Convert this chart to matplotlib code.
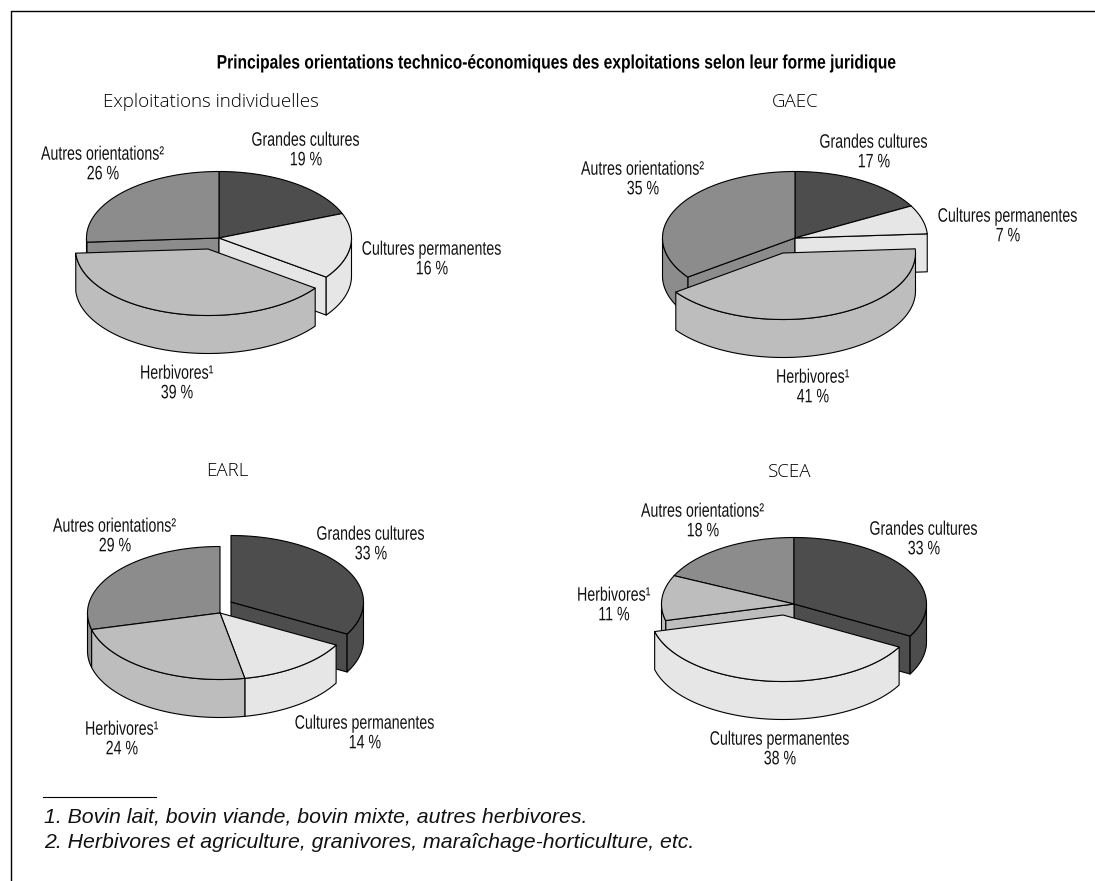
import numpy as np
import matplotlib
matplotlib.use('Agg')
import matplotlib.pyplot as plt
from matplotlib.patheffects import AbstractPathEffect
from matplotlib.transforms import Affine2D

# part of each orientation per legal form, in percent
categories = ['Grandes cultures', 'Cultures permanentes', 'Herbivores¹', 'Autres orientations²']
individuelles = [19, 16, 39, 26]
gaec = [17, 7, 41, 35]
earl = [33, 14, 24, 29]
scea = [33, 38, 11, 18]
colors = ['#4d4d4d', '#e6e6e6', '#bdbdbd', '#8c8c8c']

RX, RY, DEPTH = 132.5, 66.5, 38
SQUEEZE = 0.73


class Narrow(AbstractPathEffect):
    # no condensed font installed, so squeeze the glyphs around x0
    def __init__(self, x0, sx):
        super().__init__()
        self.tr = Affine2D().translate(-x0, 0).scale(sx, 1).translate(x0, 0)

    def draw_path(self, renderer, gc, tpath, affine, rgbFace=None):
        renderer.draw_path(gc, tpath, affine + self.tr, rgbFace)


def arc(cx, cy, a, b):
    t = np.radians(np.linspace(a, b, 80))
    return np.column_stack([cx + RX * np.cos(t), cy - RY * np.sin(t)])


def draw_slice(ax, cx, cy, a1, a2, color):
    # a1 > a2, clockwise. walls first, top face last
    edge = dict(facecolor=color, edgecolor='black', linewidth=0.8, joinstyle='round')
    for a, vis in ((a1, np.cos(np.radians(a1)) < 0), (a2, np.cos(np.radians(a2)) > 0)):
        if vis:
            r = arc(cx, cy, a, a)[0]
            ax.fill([cx, r[0], r[0], cx], [cy, r[1], r[1] + DEPTH, cy + DEPTH], **edge)
    # outer wall is only seen on the front half (-180..0)
    for shift in (0, -360, 360):
        lo, hi = max(a2 + shift, -180), min(a1 + shift, 0)
        if hi > lo:
            pts = arc(cx, cy, hi, lo)
            low = pts[::-1] + [0, DEPTH]
            ax.fill(*np.vstack([pts, low]).T, **edge)
    ax.fill(*np.vstack([[cx, cy], arc(cx, cy, a1, a2)]).T, **edge)


def pie3d(ax, values, cx, cy, exploded, offset):
    angles = 90 - np.cumsum([0] + values) * 3.6
    order = sorted(range(4), key=lambda i: -np.sin(np.radians((angles[i] + angles[i + 1]) / 2)))
    rest = [i for i in order if i != exploded]
    # slice pulled to the back goes first, pulled to the front goes last
    seq = [exploded] + rest if offset[1] < 0 else rest + [exploded]
    for i in seq:
        dx, dy = offset if i == exploded else (0, 0)
        draw_slice(ax, cx + dx, cy + dy, angles[i], angles[i + 1], colors[i])


def lab(ax, x, y, name, pct):
    t = ax.text(x, y, name + '\n' + str(pct) + ' %', ha='center', va='center', multialignment='center',
                family='Liberation Sans', fontsize=14, linespacing=1.2, color='#111111')
    w = t.get_window_extent(fig.canvas.get_renderer()).width
    if x + w / 2 > 1090:
        # unsqueezed box would pass the edge, anchor on the right instead
        x = x + SQUEEZE * w / 2
        t.set_x(x)
        t.set_ha('right')
    t.set_path_effects([Narrow(x, SQUEEZE)])


fig = plt.figure(figsize=(10.95, 8.81), dpi=100)
ax = fig.add_axes([0, 0, 1, 1])
ax.set_xlim(0, 1095)
ax.set_ylim(881, 0)
ax.axis('off')

# frame, only top and left
ax.plot([11, 11, 1095], [881, 11, 11], color='black', lw=1.0)

ax.text(557, 64, 'Principales orientations technico-économiques des exploitations selon leur forme juridique',
        ha='center', va='center', family='Liberation Sans', fontweight='bold', fontsize=14,
        path_effects=[Narrow(557, 0.803)])

pie3d(ax, individuelles, 219, 238, 2, (-11, 11))
pie3d(ax, gaec, 795, 238, 2, (-12, 15))
pie3d(ax, earl, 220, 613, 0, (11, -11))
pie3d(ax, scea, 794, 604, 1, (-11, 11))

for x, y, t in [(211, 102, 'Exploitations individuelles'), (795, 102, 'GAEC'),
                (227, 471, 'EARL'), (790, 472, 'SCEA')]:
    ax.text(x, y, t, ha='center', va='center', family='Open Sans', fontweight='light', fontsize=13.5,
            color='black')

# labels for each pie: grandes, permanentes, herbivores, autres
pos1 = [(306, 151), (432, 260), (177, 384), (103, 165)]
pos2 = [(874, 153), (1008, 227), (813, 388), (643, 180)]
pos3 = [(371, 545), (365, 734), (122, 740), (115, 537)]
pos4 = [(924, 540), (780, 750), (614, 606), (703, 522)]
for vals, pos in [(individuelles, pos1), (gaec, pos2), (earl, pos3), (scea, pos4)]:
    for name, v, (x, y) in zip(categories, vals, pos):
        lab(ax, x, y, name, v)

# footnotes
ax.plot([43, 156], [797, 797], color='black', lw=0.8)
ax.text(44, 817, '1. Bovin lait, bovin viande, bovin mixte, autres herbivores.', ha='left', va='center',
        family='Liberation Sans', style='italic', fontsize=15.3, color='#111111')
ax.text(44, 843, '2. Herbivores et agriculture, granivores, maraîchage-horticulture, etc.', ha='left', va='center',
        family='Liberation Sans', style='italic', fontsize=15.3, color='#111111')

fig.savefig('out.png', dpi=100)
